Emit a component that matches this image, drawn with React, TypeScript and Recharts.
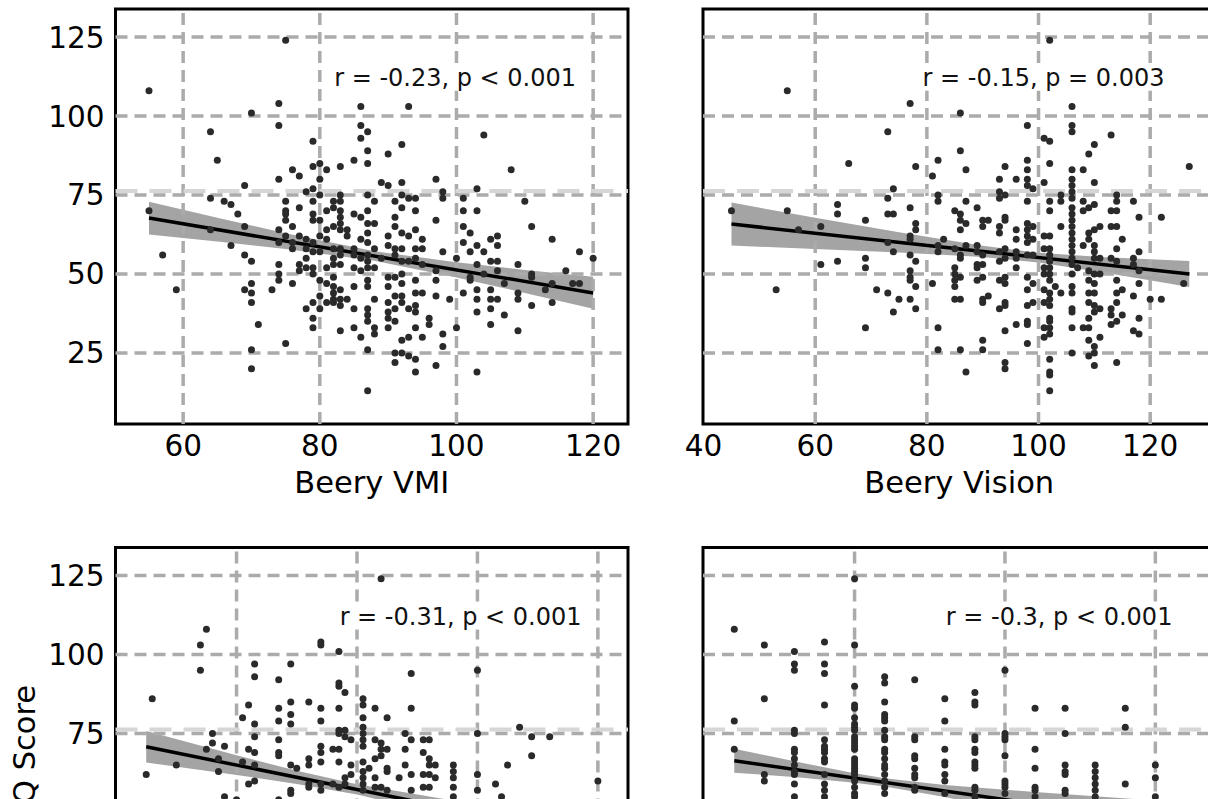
import {
  ComposedChart, Scatter, Line, Area, XAxis, YAxis,
  ReferenceLine, ReferenceArea, ReferenceDot, Label
} from 'recharts'

const FONT = '"DejaVu Sans", sans-serif'

// shared y axis (IQ score)
const Y_TICKS = [25, 50, 75, 100, 125]
const Y_DOMAIN: [number, number] = [2.5, 133.9]

// top-left: Beery VMI
const vmiTicks = [60, 80, 100, 120]
const vmiDomain: [number, number] = [50.1, 125.1]
const vmiPoints: [number, number][] = [
  [55,108],[75,124],[74,104],[74,97],[70,101],[64,95],[65,86],[55,70],[57,56],[59,45],[64,74],[64,64],[66,73],[67,72],[68,69],[67,59],[69,78],[69,65],[69,56],[70,54],[69,45],[70,47],[70,44],[70,41],[71,34],[70,26],[70,20],[73,45],[74,53],[74,50],[74,48],[74,64],[74,60],[74,80],[75,73],[75,70],[75,69],[75,67],[75,62],[75,28],[76,83],[76,65],[76,60],[76,58],[76,47],[77,81],[77,71],[77,62],[77,53],[77,51],[78,76],[78,61],[78,58],[78,55],[78,52],[78,39],[79,92],[79,84],[79,77],[79,73],[79,69],[79,67],[79,60],[79,57],[79,52],[79,50],[79,41],[79,36],[79,33],[80,85],[80,80],[80,75],[80,67],[80,62],[80,57],[80,48],[80,43],[80,39],[81,83],[81,70],[81,64],[81,61],[81,52],[81,47],[81,41],[82,73],[82,71],[82,65],[82,58],[82,55],[82,53],[82,49],[82,46],[82,44],[82,42],[82,41],[83,84],[83,75],[83,73],[83,70],[83,68],[83,66],[83,64],[83,58],[83,56],[83,53],[83,45],[83,42],[83,40],[83,32],[84,64],[84,62],[84,42],[85,86],[85,69],[85,58],[85,56],[85,52],[85,46],[85,39],[85,33],[86,103],[86,97],[86,93],[86,68],[86,61],[86,55],[86,51],[86,30],[87,95],[87,89],[87,85],[87,75],[87,70],[87,66],[87,63],[87,60],[87,56],[87,54],[87,52],[87,48],[87,46],[87,39],[87,37],[87,35],[87,26],[87,13],[88,73],[88,66],[88,58],[88,52],[88,42],[88,33],[88,31],[89,79],[89,55],[90,88],[90,78],[90,62],[90,59],[90,49],[90,46],[90,41],[90,38],[90,36],[90,33],[91,73],[91,68],[91,65],[91,58],[91,56],[91,49],[91,43],[91,39],[91,35],[91,25],[91,22],[92,91],[92,79],[92,75],[92,71],[92,63],[92,58],[92,54],[92,50],[92,47],[92,43],[92,41],[92,29],[92,25],[93,103],[93,74],[93,62],[93,54],[93,39],[93,30],[93,24],[94,74],[94,70],[94,64],[94,58],[94,55],[94,48],[94,44],[94,40],[94,38],[94,33],[94,23],[94,19],[95,61],[95,58],[95,53],[95,44],[95,30],[96,36],[96,34],[97,80],[97,67],[97,51],[97,48],[97,43],[97,21],[98,76],[98,74],[98,57],[98,31],[98,27],[99,42],[100,55],[100,33],[101,74],[101,70],[101,65],[101,60],[101,44],[102,63],[102,57],[102,49],[102,48],[103,77],[103,70],[103,59],[103,53],[103,45],[103,42],[103,38],[103,19],[104,94],[104,57],[104,50],[105,61],[105,54],[105,45],[105,42],[105,39],[105,34],[106,62],[106,59],[106,54],[106,51],[106,42],[107,47],[107,37],[108,83],[110,73],[109,53],[109,44],[109,42],[109,32],[111,65],[111,50],[111,49],[111,40],[113,45],[114,61],[114,47],[114,41],[116,51],[117,47],[118,57],[118,47],[120,55],
]
const vmiFit = [{ x: 55, y: 67.7 }, { x: 120, y: 44.0 }]
const vmiBand = [
  { x: 55, range: [62.5, 72.9] }, { x: 65, range: [60.3, 67.8] }, { x: 75, range: [57.9, 62.9] },
  { x: 88, range: [54.2, 57.2] }, { x: 100, range: [48.9, 53.7] }, { x: 110, range: [44.0, 51.3] },
  { x: 120, range: [39.0, 49.1] },
]

// top-right: Beery Vision
const visionTicks = [40, 60, 80, 100, 120]
const visionDomain: [number, number] = [39.9, 131.7]
const visionPoints: [number, number][] = [
  [102,124],[55,108],[77,104],[86,101],[106,103],[98,97],[106,97],[106,95],[73,95],[113,94],[101,93],[102,92],[110,91],[86,89],[109,88],[66,85],[78,84],[87,83],[94,84],[102,85],[127,84],[82,86],[81,81],[98,86],[98,83],[106,83],[108,83],[93,80],[96,80],[98,80],[101,79],[106,80],[110,79],[98,78],[99,77],[106,78],[106,76],[74,77],[73,74],[82,75],[82,73],[93,76],[93,74],[94,75],[104,75],[104,73],[102,73],[106,74],[108,73],[114,75],[114,73],[117,73],[87,73],[98,73],[64,72],[64,69],[55,70],[45,70],[73,69],[74,69],[77,71],[85,70],[86,69],[89,71],[102,70],[106,71],[106,69],[108,70],[109,71],[110,72],[113,70],[114,70],[118,68],[122,68],[69,67],[78,66],[78,64],[90,67],[91,67],[90,65],[93,65],[93,63],[94,68],[94,67],[86,67],[86,64],[87,66],[98,66],[98,64],[99,65],[96,64],[104,65],[106,67],[106,65],[106,63],[109,63],[110,64],[111,65],[113,65],[114,65],[57,64],[61,65],[77,62],[77,61],[73,60],[83,61],[96,61],[98,62],[98,60],[99,61],[101,62],[102,62],[106,61],[106,59],[108,59],[109,61],[110,59],[115,61],[74,57],[77,56],[78,54],[82,57],[82,59],[85,58],[86,56],[86,55],[87,59],[89,59],[89,57],[90,56],[93,57],[93,54],[94,58],[94,55],[96,57],[96,55],[98,56],[99,56],[101,58],[102,58],[102,56],[102,54],[106,57],[106,55],[106,53],[110,57],[110,55],[111,55],[113,55],[114,54],[114,58],[117,55],[118,57],[117,53],[118,51],[126,47],[61,53],[64,54],[69,55],[69,52],[53,45],[71,45],[73,44],[75,42],[74,38],[77,51],[77,49],[77,48],[77,42],[78,46],[78,39],[81,47],[85,52],[85,50],[85,48],[85,46],[85,42],[86,42],[86,49],[89,53],[89,52],[89,48],[90,53],[90,49],[90,42],[90,41],[91,43],[93,48],[93,39],[94,49],[94,47],[94,41],[94,40],[94,32],[96,52],[96,34],[98,49],[98,45],[98,40],[98,35],[98,34],[98,28],[99,47],[99,41],[101,52],[101,50],[101,45],[101,41],[101,33],[101,30],[102,52],[102,50],[102,48],[102,44],[102,42],[102,40],[102,36],[102,35],[102,33],[102,31],[102,23],[102,19],[102,18],[102,13],[103,46],[104,44],[106,50],[106,46],[106,44],[106,39],[106,38],[106,33],[106,25],[107,52],[108,33],[109,51],[109,48],[109,44],[109,41],[109,36],[109,33],[109,29],[109,24],[110,50],[110,47],[110,44],[110,40],[110,38],[110,27],[110,25],[110,21],[111,50],[111,39],[111,30],[113,39],[113,37],[113,34],[114,48],[114,44],[114,41],[114,35],[114,22],[115,45],[115,37],[117,43],[117,32],[118,47],[118,36],[118,31],[120,42],[122,42],[82,33],[82,26],[86,26],[87,19],[90,29],[90,26],[94,22],[94,20],[69,33],
]
const visionFit = [{ x: 45, y: 65.8 }, { x: 127, y: 50.0 }]
const visionBand = [
  { x: 45, range: [59.0, 72.6] }, { x: 60, range: [57.9, 67.8] }, { x: 75, range: [56.8, 63.2] },
  { x: 90, range: [55.4, 58.9] }, { x: 100, range: [53.6, 56.7] }, { x: 112, range: [50.4, 55.3] },
  { x: 127, range: [45.9, 54.1] },
]

// bottom-left
const motorTicks = [60, 80, 100, 120]
const motorDomain: [number, number] = [39.9, 125]
const motorPoints: [number, number][] = [
  [84,124],[55,108],[54,103],[54,95],[46,86],[45,62],[50,65],[55,70],[56,72],[56,75],[58,71],[57,67],[57,63],[61,80],[61,66],[62,84],[62,70],[62,59],[63,97],[63,93],[63,78],[63,74],[63,69],[63,65],[63,60],[67,92],[67,83],[67,79],[67,73],[67,69],[67,68],[69,97],[69,85],[69,81],[69,78],[69,65],[70,64],[69,57],[72,85],[72,67],[72,65],[72,59],[72,58],[74,104],[74,103],[74,83],[74,79],[74,71],[74,69],[74,66],[74,59],[74,57],[76,70],[77,70],[76,59],[77,101],[77,91],[78,88],[77,90],[77,83],[77,76],[77,75],[78,76],[78,74],[79,73],[77,66],[78,61],[79,65],[78,59],[77,58],[79,62],[81,86],[81,84],[81,80],[81,77],[81,75],[81,73],[81,71],[81,66],[81,63],[81,61],[81,59],[81,57],[82,64],[83,83],[83,73],[83,67],[83,61],[83,58],[84,72],[84,70],[84,68],[84,58],[85,80],[85,70],[85,64],[85,63],[85,57],[87,61],[88,75],[88,70],[88,65],[89,94],[89,83],[89,73],[89,62],[89,57],[91,69],[91,62],[91,58],[91,73],[92,73],[92,67],[92,65],[92,62],[92,58],[93,65],[93,61],[96,65],[96,63],[96,61],[96,58],[96,55],[100,95],[100,75],[100,62],[100,57],[103,59],[104,55],[105,65],[107,77],[109,74],[109,68],[112,74],[120,60],[58,55],[60,54],[67,54],[69,56],
]
const motorFit = [{ x: 45, y: 70.8 }, { x: 120, y: 41.8 }]
const motorBand = [
  { x: 45, range: [65.8, 75.8] }, { x: 60, range: [61.9, 68.1] }, { x: 70, range: [59.0, 63.2] },
  { x: 80, range: [55.7, 58.9] }, { x: 95, range: [48.9, 54.1] }, { x: 110, range: [41.3, 50.1] },
  { x: 120, range: [36.2, 47.4] },
]

// bottom-right: discrete x, one column per value
const gradeTicks = [5, 10, 15, 20]
const gradeDomain: [number, number] = [4.96, 22]
const gradeColumns: [number, number[]][] = [
  [6, [108, 79, 70]],
  [7, [103, 86, 62, 60]],
  [8, [101, 97, 95, 76, 75, 70, 69, 67, 65, 63, 62, 59, 55]],
  [9, [104, 97, 94, 84, 73, 71, 70, 69, 67, 66, 62, 59, 57, 55]],
  [10, [124, 103, 90, 84, 83, 80, 78, 77, 76, 74, 73, 72, 71, 70, 67, 66, 65, 64, 63, 62, 60, 58, 56, 55]],
  [11, [93, 91, 85, 81, 80, 79, 76, 74, 73, 70, 69, 67, 65, 64, 62, 60, 58, 56]],
  [12, [92, 74, 73, 68, 67, 64, 62, 61, 58, 57]],
  [13, [86, 79, 70, 66, 65, 62, 60, 56]],
  [14, [88, 85, 84, 74, 73, 70, 69, 66, 65, 64, 58, 57, 55]],
  [15, [95, 75, 74, 73, 68, 60, 59, 58, 56]],
  [16, [83, 70, 64, 58, 57, 55]],
  [17, [83, 75, 65, 63, 62, 57, 56]],
  [18, [65, 63, 61, 59, 57, 55]],
  [19, [83, 77, 59]],
  [20, [65, 61, 55]],
]
const gradePoints: [number, number][] = gradeColumns.flatMap(([x, ys]) => ys.map((y) => [x, y] as [number, number]))
const gradeFit = [{ x: 6, y: 66.4 }, { x: 21, y: 45.85 }]
const gradeBand = [
  { x: 6, range: [62.6, 70.2] }, { x: 8, range: [61.2, 66.2] }, { x: 10, range: [59.4, 62.4] },
  { x: 11, range: [58.25, 60.85] }, { x: 13, range: [54.9, 58.7] }, { x: 16, range: [48.9, 56.5] },
  { x: 21, range: [38.6, 53.1] },
]

const PLOT_W = 512.5
const PLOT_H = 415
const X_AXIS_H = 80
const GRID_COLOR = '#ababab'

// eslint-disable-next-line @typescript-eslint/no-explicit-any
const Dot = (props: any) => <circle cx={props.cx} cy={props.cy} r={3.5} fill="#2a2a2a" />
const NoTick = () => <g />

// stat text drawn on a white box, like matplotlib's bbox
function statLabel(text: string, boxW: number) {
  // eslint-disable-next-line @typescript-eslint/no-explicit-any
  return (props: any) => {
    const vb = props.viewBox || {}
    const cx = (vb.x ?? 0) + (vb.width ?? 0) / 2
    const cy = (vb.y ?? 0) + (vb.height ?? 0) / 2
    return (
      <g>
        <rect x={cx - boxW / 2} y={cy - 13.5} width={boxW} height={27} fill="#fff" />
        <text x={cx} y={cy + 8.5} textAnchor="middle" fontSize={24} fontFamily={FONT} fill="#111">
          {text}
        </text>
      </g>
    )
  }
}

interface PanelProps {
  left: number
  top: number
  width: number
  plotLeft: number
  plotTop: number
  yAxisWidth: number
  showYTicks: boolean
  showXTicks: boolean
  xDomain: [number, number]
  xTicks: number[]
  xLabel?: string
  yLabel?: boolean
  points: [number, number][]
  fit: { x: number; y: number }[]
  band: { x: number; range: number[] }[]
  stat: string
  statW: number
  statAt: [number, number]
}

function Panel(p: PanelProps) {
  const height = p.plotTop + PLOT_H + X_AXIS_H + 16
  const data = p.points.map(([x, y]) => ({ x, y }))
  const tickStyle = { fontSize: 29.5, fill: '#000', fontFamily: FONT }
  const gridX = p.xTicks.filter((t) => t - p.xDomain[0] > 0.5)
  return (
    <div style={{ position: 'absolute', left: p.left, top: p.top }}>
      <ComposedChart
        width={p.width}
        height={height}
        margin={{
          top: p.plotTop,
          left: p.plotLeft - p.yAxisWidth,
          right: p.width - p.plotLeft - PLOT_W,
          bottom: 16,
        }}
      >
        <XAxis
          type="number"
          dataKey="x"
          domain={p.xDomain}
          ticks={p.xTicks}
          allowDataOverflow
          interval={0}
          height={X_AXIS_H}
          axisLine={false}
          tickLine={false}
          tickSize={0}
          tickMargin={11}
          tick={p.showXTicks ? tickStyle : NoTick}
        >
          {p.xLabel && (
            <Label value={p.xLabel} position="insideBottom" offset={11}
              style={{ fontSize: 30.5, fill: '#000', fontFamily: FONT }} />
          )}
        </XAxis>
        <YAxis
          type="number"
          dataKey="y"
          domain={Y_DOMAIN}
          ticks={Y_TICKS}
          allowDataOverflow
          interval={0}
          width={p.yAxisWidth}
          axisLine={false}
          tickLine={false}
          tickSize={0}
          tickMargin={11}
          tick={p.showYTicks ? tickStyle : false}
        >
          {p.yLabel && (
            <Label
              content={() => (
                <text x={35} y={p.plotTop + 201.5} transform={`rotate(-90 35 ${p.plotTop + 201.5})`}
                  textAnchor="middle" fontSize={30.5} fontFamily={FONT} fill="#000">
                  IQ Score
                </text>
              )}
            />
          )}
        </YAxis>
        {gridX.map((t) => (
          <ReferenceLine key={`gx${t}`} x={t} stroke={GRID_COLOR} strokeWidth={3.5} strokeDasharray="12 7" />
        ))}
        <ReferenceLine y={76.3} stroke="#d6d6d6" strokeWidth={4} strokeDasharray="22 12" />
        {Y_TICKS.map((t) => (
          <ReferenceLine key={`gy${t}`} y={t} stroke={GRID_COLOR} strokeWidth={3.5} strokeDasharray="12 7" />
        ))}
        <Area data={p.band} dataKey="range" type="linear" stroke="none" fill="#a4a4a4"
          fillOpacity={1} isAnimationActive={false} />
        <Scatter data={data} shape={Dot} isAnimationActive={false} />
        <Line data={p.fit} dataKey="y" type="linear" stroke="#000" strokeWidth={3.5}
          dot={false} activeDot={false} isAnimationActive={false} />
        <ReferenceDot x={p.statAt[0]} y={p.statAt[1]} r={0} fill="none" stroke="none">
          <Label content={statLabel(p.stat, p.statW)} />
        </ReferenceDot>
        <ReferenceArea x1={p.xDomain[0]} x2={p.xDomain[1]} y1={Y_DOMAIN[0]} y2={Y_DOMAIN[1]}
          fill="none" stroke="#000" strokeWidth={3} ifOverflow="visible" />
      </ComposedChart>
    </div>
  )
}

export default function App() {
  return (
    <div style={{
      position: 'fixed', left: 0, top: 0, width: 1208, height: 799,
      overflow: 'hidden', background: '#fff',
    }}>
      <Panel left={0} top={0} width={660} plotLeft={115.5} plotTop={9} yAxisWidth={100} showYTicks showXTicks
        xDomain={vmiDomain} xTicks={vmiTicks} xLabel="Beery VMI"
        points={vmiPoints} fit={vmiFit} band={vmiBand}
        stat="r = -0.23, p < 0.001" statW={252} statAt={[99.8, 112.3]} />
      <Panel left={640} top={0} width={620} plotLeft={63} plotTop={9} yAxisWidth={1} showYTicks={false} showXTicks
        xDomain={visionDomain} xTicks={visionTicks} xLabel="Beery Vision"
        points={visionPoints} fit={visionFit} band={visionBand}
        stat="r = -0.15, p = 0.003" statW={252} statAt={[100.9, 112.3]} />
      <Panel left={0} top={500} width={660} plotLeft={115.5} plotTop={47.5} yAxisWidth={100} showYTicks
        showXTicks={false} yLabel
        xDomain={motorDomain} xTicks={motorTicks}
        points={motorPoints} fit={motorFit} band={motorBand}
        stat="r = -0.31, p < 0.001" statW={252} statAt={[97.2, 112.2]} />
      <Panel left={640} top={500} width={620} plotLeft={63} plotTop={47.5} yAxisWidth={1} showYTicks={false}
        showXTicks={false}
        xDomain={gradeDomain} xTicks={gradeTicks}
        points={gradePoints} fit={gradeFit} band={gradeBand}
        stat="r = -0.3, p < 0.001" statW={237} statAt={[16.8, 112.2]} />
    </div>
  )
}
